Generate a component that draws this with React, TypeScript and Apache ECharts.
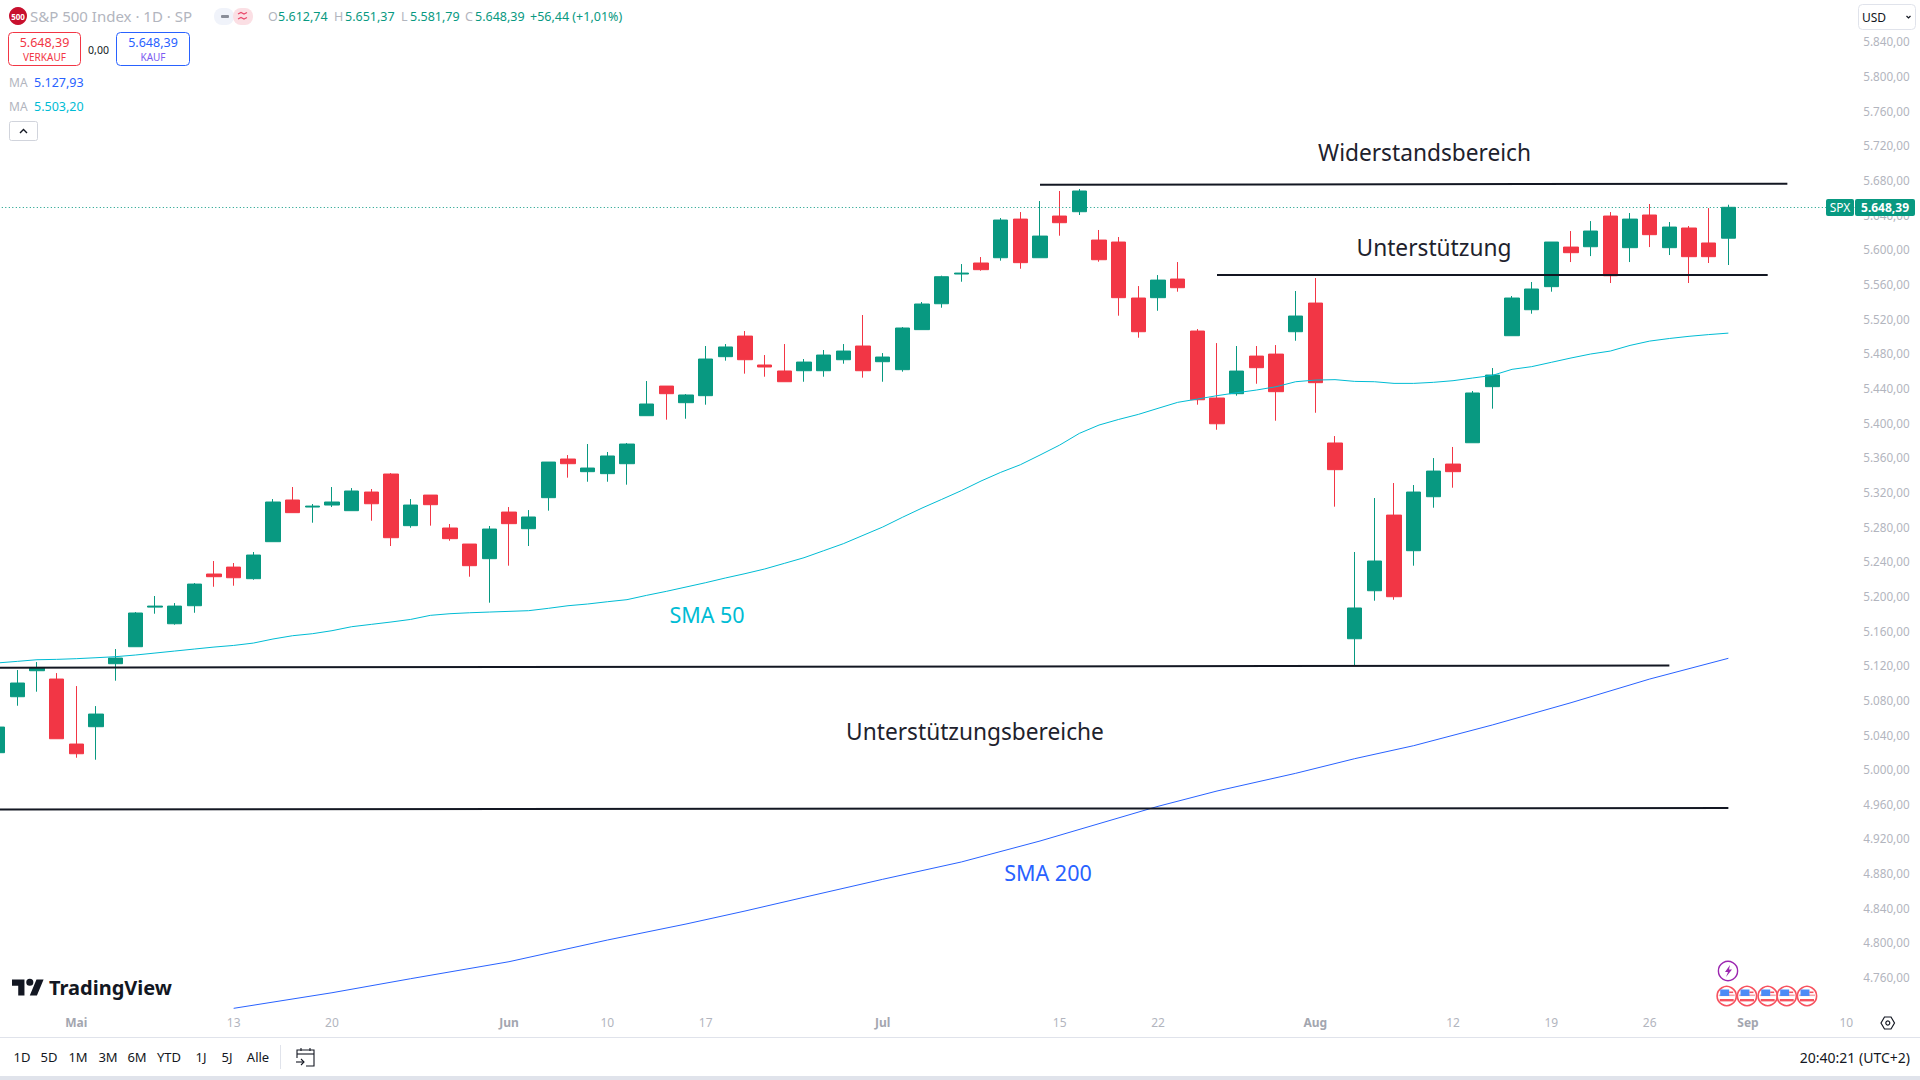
import React, { useEffect, useRef } from "react";
import * as echarts from "echarts";

const categories = [
  "Apr 25","Apr 26","Apr 29","Apr 30","May 1","May 2","May 3","May 6","May 7","May 8","May 9","May 10",
  "May 13","May 14","May 15","May 16","May 17","May 20","May 21","May 22","May 23","May 24","May 28","May 29","May 30","May 31",
  "Jun 3","Jun 4","Jun 5","Jun 6","Jun 7","Jun 10","Jun 11","Jun 12","Jun 13","Jun 14","Jun 17","Jun 18","Jun 20","Jun 21",
  "Jun 24","Jun 25","Jun 26","Jun 27","Jun 28","Jul 1","Jul 2","Jul 3","Jul 5","Jul 8","Jul 9","Jul 10","Jul 11","Jul 12",
  "Jul 15","Jul 16","Jul 17","Jul 18","Jul 19","Jul 22","Jul 23","Jul 24","Jul 25","Jul 26","Jul 29","Jul 30","Jul 31",
  "Aug 1","Aug 2","Aug 5","Aug 6","Aug 7","Aug 8","Aug 9","Aug 12","Aug 13","Aug 14","Aug 15","Aug 16","Aug 19","Aug 20","Aug 21","Aug 22","Aug 23",
  "Aug 26","Aug 27","Aug 28","Aug 29","Aug 30","Sep 3","Sep 4","Sep 5","Sep 6","Sep 9","Sep 10",
];
const dayTicks: Record<string, string> = {
  "May 13": "13", "May 20": "20", "Jun 10": "10", "Jun 17": "17", "Jul 15": "15", "Jul 22": "22",
  "Aug 12": "12", "Aug 19": "19", "Aug 26": "26", "Sep 10": "10",
};
const monthTicks: Record<string, string> = {
  "May 1": "Mai", "Jun 3": "Jun", "Jul 1": "Jul", "Aug 1": "Aug", "Sep 3": "Sep",
};

const opens = [
  5019,5083.6,5113.6,5104,5029,5049,5121.7,5141.3,5187,5167.8,
  5188.6,5225.2,5233.2,5219.8,5262.5,5310.6,5302.5,5304.8,5298.3,5319.8,
  5340.6,5281,5316.3,5278.3,5259.8,5242.9,5296.7,5277.5,5313.3,5357.9,
  5343.3,5341,5352.5,5407.9,5442.1,5422.9,5431,5476,5499.8,5466.4,
  5459.5,5459.8,5459.8,5472.5,5488.3,5470.2,5461,5507.2,5537.1,5571.4,
  5584.1,5590.2,5634.8,5590.2,5638.3,5643.3,5610.6,5608.3,5543.7,5544.1,
  5565.6,5505.6,5428.3,5433.3,5476.7,5479,5504.8,5537.9,5376.4,5150.5,
  5205.9,5293.2,5252.1,5314.4,5352.1,5376.7,5441.4,5500.2,5530.2,5556.8,
  5602.5,5602.9,5638.3,5601.8,5639.5,5601.8,5624.5,5607.2,5612.74,
];
const closes = [
  5048.6,5099.4,5117.1,5035.1,5017.8,5063.6,5128.2,5180.2,5188.2,5188.2,
  5213.6,5222.1,5220.9,5247.1,5308.3,5296,5303.6,5308.3,5321,5306.3,
  5267.1,5304.8,5305.2,5266,5234.8,5277.1,5283.3,5291,5354.4,5352.5,
  5347.5,5361.4,5375.2,5421.4,5433.3,5431.8,5473.3,5487.2,5472.5,5464.1,
  5447.1,5469.8,5477.9,5482.5,5459.8,5475.6,5509.1,5536.8,5568.3,5572.5,
  5576.4,5633.7,5584.5,5615.2,5630.6,5667.2,5587.9,5544.1,5504.8,5564.4,
  5555.6,5426.3,5398.6,5459.4,5463.3,5435.6,5522.9,5446,5345.6,5186,
  5240.2,5199,5319.8,5344,5343.3,5434.1,5454.8,5543.7,5554.1,5608.3,
  5596,5621,5569.4,5634.8,5616.8,5625.6,5591.4,5591.4,5648.39,
];
const highs = [
  5050,5114.4,5123.6,5110.9,5095.9,5072.8,5138.6,5181.3,5199.8,5191.7,
  5214.8,5240.2,5237.9,5250.6,5311.7,5325.6,5306,5325.6,5324.4,5323.3,
  5341.7,5311.7,5316.3,5282.9,5259.8,5280.6,5302.5,5299,5354.4,5362.5,
  5375.2,5366,5376.4,5447.9,5442.1,5432.9,5488.3,5490.6,5505.6,5477.9,
  5490.6,5473.3,5483.7,5490.6,5524.1,5480.2,5510.2,5539.1,5569.5,5582.9,
  5591,5636,5642.9,5655.6,5667.2,5669.5,5622.2,5614.1,5557.5,5570.2,
  5585.2,5507.9,5491.7,5488.3,5488.3,5489.4,5551.8,5566.8,5384.4,5250.6,
  5312.9,5330.2,5327.9,5359,5371.8,5436.4,5462.9,5546,5562.2,5608.3,
  5621,5632.5,5642.9,5641.8,5652.2,5631.4,5626.8,5647.5,5651.37,
];
const lows = [
  5017,5073.2,5089.4,5035.1,5013.2,5010.9,5102.1,5141.3,5179.4,5166.7,
  5180.5,5210.5,5211.7,5218.6,5262.5,5296,5284.4,5302.5,5298.3,5286.7,
  5257.5,5278.6,5281,5263.6,5222.1,5192.1,5234.8,5257.5,5298.3,5336.4,
  5331.7,5331.7,5328.3,5407.9,5403.3,5404.4,5420.6,5471.4,5456.4,5452.9,
  5447.1,5447.1,5452.9,5467.9,5451.8,5447.1,5458.7,5507.2,5532.5,5562.5,
  5575.2,5586.8,5577.5,5590.2,5615.6,5639.5,5585.6,5523.3,5497.9,5529,
  5551,5420.6,5391.7,5431,5444.8,5402.1,5494.4,5411.3,5302.9,5119.4,
  5194.4,5195.5,5234.8,5301.7,5324.8,5376.7,5416,5500.2,5525.6,5551,
  5585.2,5592.1,5561,5585.2,5602.5,5593.3,5561,5584.1,5581.79,
];

const sma50 = [
  5122.6,5124.4,5126.3,5126.7,5127.5,5128.6,5129.8,5131.7,5134,5136.3,
  5138.6,5140.9,5142.8,5145.5,5150.2,5154,5156.3,5159.8,5164.4,5167.1,
  5169.8,5172.8,5177.5,5179.4,5180.5,5181.3,5182.1,5182.9,5185.6,5188.6,
  5190.6,5193.2,5195.6,5200.6,5205.2,5210.2,5215.2,5220.6,5225.6,5231,
  5237.5,5244,5252.1,5260.2,5269.8,5279.4,5290.6,5301.3,5311.3,5321.4,
  5332.5,5342.5,5351.3,5362.5,5374,5387.5,5397.1,5403.6,5409.4,5416.4,
  5423.3,5427.1,5431,5434.4,5437.5,5441.3,5447.1,5449,5449.5,5447.5,
  5447.1,5445.2,5445.2,5446.4,5448.3,5451.4,5454.4,5461.4,5464.5,5469.5,
  5474.5,5479.1,5482.5,5489,5494,5497,5499.5,5501.5,5503.2,
];
const sma200Days = [12,17,21,26,31,35,38,41,45,49,53,56,59,62,66,69,72,76,80,84,88];
const sma200 = [
  4724,4742,4758.2,4777.8,4802.8,4821.3,4836.3,4852.1,4872.9,4892.9,4917.1,
  4937.1,4957.1,4974.8,4995.2,5012.1,5027.1,5051,5076.7,5104,5127.93,
];

const resistanceLine = [[53, 5674.4], [91, 5675.6]];
const supportUpperLine = [[62, 5570.3], [90, 5570.3]];
const supportMidLine = [[0, 5117.1], [85, 5119.5]];
const supportLowLine = [[0, 4953.5], [88, 4955.2]];
const lastPrice = 5648.39;

const FONT = '"Noto Sans", sans-serif';
const GREEN = "#089981";
const RED = "#f23645";
const TEAL = "#00bcd4";
const BLUE = "#2962ff";
const INK = "#131722";
const NOTE = "#1e222d";
const MUTE = "#b2b5be";
// The first candle is cut by the page's left edge, so the chart's div starts this far off-page.
const BLEED = 13;

const fmtPrice = (v: number) =>
  v.toFixed(2).replace(".", ",").replace(/\B(?=(\d{3})(?!\d))/g, ".");

const t = (text: string, x: number, y: number, size: number, fill: string, align = "left", weight = "normal") => ({
  type: "text",
  z: 100,
  x,
  y,
  style: {
    text,
    fill,
    font: `${weight} ${size}px ${FONT}`,
    textAlign: align,
    textVerticalAlign: "middle",
  },
});
const box = (x: number, y: number, w: number, h: number, r: number, fill: string, stroke?: string) => ({
  type: "rect",
  z: 99,
  shape: { x, y, width: w, height: h, r },
  style: { fill, stroke: stroke || "none", lineWidth: 1 },
});
const stroked = (type: string, shape: any, stroke: string, lineWidth = 1.2, fill = "none") => ({
  type,
  z: 100,
  shape,
  style: { stroke, lineWidth, fill },
});

const flag = (cx: number, cy: number) => ({
  type: "group",
  z: 100,
  children: [
    { type: "circle", z: 100, shape: { cx, cy, r: 9.6 }, style: { fill: "#fff", stroke: "#f7525f", lineWidth: 1.6 } },
    { type: "rect", z: 100, shape: { x: cx - 8, y: cy - 1.5, width: 16, height: 1.6 }, style: { fill: "#f7a5ab" } },
    { type: "rect", z: 100, shape: { x: cx - 7, y: cy + 3, width: 14, height: 2.4 }, style: { fill: "#f7525f" } },
    { type: "rect", z: 100, shape: { x: cx - 6.5, y: cy - 6.5, width: 9, height: 6.5 }, style: { fill: "#4c8bf5" } },
    { type: "rect", z: 100, shape: { x: cx + 2.5, y: cy - 4.5, width: 4, height: 1.6 }, style: { fill: "#f7525f" } },
  ],
});

const graphics: any[] = [
  // chrome
  box(0, 1037, 1920, 1, 0, "#e0e3eb"),
  box(0, 1076, 1920, 4, 0, "#e0e3eb"),
  box(280, 1045, 1, 24, 0, "#e0e3eb"),

  // header
  { type: "circle", z: 100, shape: { cx: 18, cy: 16, r: 9 }, style: { fill: "#c8102e" } },
  t("500", 18, 16.5, 8, "#ffffff", "center", "bold"),
  t("S&P 500 Index · 1D · SP", 30, 16, 15, MUTE),
  box(214, 8, 20, 17, 8, "#f0f3fa"),
  box(233, 8, 20, 17, 8, "#fbdfe4"),
  box(221, 15, 8, 3, 1, "#8a8e99"),
  stroked("polyline", { points: [[238, 14], [241, 12.5], [244, 14], [247, 12.5]] }, "#e8486b"),
  stroked("polyline", { points: [[238, 19], [241, 17.5], [244, 19], [247, 17.5]] }, "#e8486b"),
  t("O", 268, 16, 12.5, MUTE),
  t("5.612,74", 278, 16, 12.5, GREEN),
  t("H", 334, 16, 12.5, MUTE),
  t("5.651,37", 345, 16, 12.5, GREEN),
  t("L", 401, 16, 12.5, MUTE),
  t("5.581,79", 410, 16, 12.5, GREEN),
  t("C", 465, 16, 12.5, MUTE),
  t("5.648,39", 475, 16, 12.5, GREEN),
  t("+56,44 (+1,01%)", 530, 16, 12.5, GREEN),

  box(8.5, 32.5, 72, 33, 4, "#fff", RED),
  t("5.648,39", 44.5, 42.5, 12.5, RED, "center"),
  t("VERKAUF", 44.5, 57, 10, RED, "center"),
  t("0,00", 98.5, 50, 10.5, INK, "center"),
  box(116.5, 32.5, 73, 33, 4, "#fff", BLUE),
  t("5.648,39", 153, 42.5, 12.5, BLUE, "center"),
  t("KAUF", 153, 57, 10, "#7b5cf0", "center"),
  t("MA", 9, 82.5, 12, MUTE),
  t("5.127,93", 34, 82.5, 12.5, BLUE),
  t("MA", 9, 106.5, 12, MUTE),
  t("5.503,20", 34, 106.5, 12.5, TEAL),
  box(9.5, 121.5, 28, 19, 2, "#fff", "#d1d4dc"),
  stroked("polyline", { points: [[20, 133], [23.5, 129.5], [27, 133]] }, INK, 1.4),

  // price-axis widgets
  box(1858.5, 4.5, 57, 25, 4, "#fff", "#e0e3eb"),
  t("USD", 1862, 17, 12, INK),
  stroked("polyline", { points: [[1906.5, 16], [1908.5, 18], [1910.5, 16]] }, INK, 1.2),
  box(1826, 199, 28, 17, 2, GREEN),
  box(1855, 199, 60, 17, 2, GREEN),
  t("SPX", 1840, 207.5, 12, "#fff", "center"),
  t("5.648,39", 1885, 207.5, 12, "#fff", "center", "bold"),

  // annotations
  t("Widerstandsbereich", 1424.5, 152, 22.7, NOTE, "center"),
  t("Unterstützung", 1434, 247, 22.7, NOTE, "center"),
  t("Unterstützungsbereiche", 975, 731, 22.7, NOTE, "center"),
  t("SMA 50", 707, 614.5, 21.5, TEAL, "center"),
  t("SMA 200", 1048, 872.5, 21.5, BLUE, "center"),

  // logo
  { type: "tvlogo", z: 100, x: 12, y: 976, scaleX: 0.89, scaleY: 0.89, style: { fill: INK } },
  t("TradingView", 49, 987, 20, INK, "left", "bold"),

  // event markers
  stroked("circle", { cx: 1728, cy: 971, r: 9.6 }, "#9c27b0", 1.4, "#fff"),
  { type: "polygon", z: 101, shape: { points: [[1730, 965], [1725, 972], [1728, 972], [1726, 977], [1732, 969.5], [1729, 969.5]] }, style: { fill: "#9c27b0" } },
  flag(1726.7, 996),
  flag(1747, 996),
  flag(1767.7, 996),
  flag(1786.7, 996),
  flag(1807, 996),

  // settings hexagon
  stroked("polygon", { points: [[1881, 1023], [1884.5, 1017], [1891, 1017], [1894.5, 1023], [1891, 1029], [1884.5, 1029]] }, INK, 1.2),
  stroked("circle", { cx: 1887.8, cy: 1023, r: 2 }, INK, 1.2),

  // toolbar
  t("1D", 22, 1057, 13, INK, "center"),
  t("5D", 49, 1057, 13, INK, "center"),
  t("1M", 78, 1057, 13, INK, "center"),
  t("3M", 108, 1057, 13, INK, "center"),
  t("6M", 137, 1057, 13, INK, "center"),
  t("YTD", 169, 1057, 13, INK, "center"),
  t("1J", 201, 1057, 13, INK, "center"),
  t("5J", 227, 1057, 13, INK, "center"),
  t("Alle", 258, 1057, 13, INK, "center"),
  stroked("polyline", { points: [[297, 1058], [297, 1050], [314, 1050], [314, 1066], [306, 1066]] }, INK, 1.1),
  stroked("polyline", { points: [[297, 1054], [314, 1054]] }, INK, 1.1),
  stroked("polyline", { points: [[301, 1048], [301, 1051]] }, INK, 1.1),
  stroked("polyline", { points: [[310, 1048], [310, 1051]] }, INK, 1.1),
  stroked("polyline", { points: [[296, 1062], [304, 1062]] }, INK, 1.1),
  stroked("polyline", { points: [[301, 1059], [304, 1062], [301, 1065]] }, INK, 1.1),
  t("20:40:21 (UTC+2)", 1910, 1057, 14, INK, "right"),
];

const flatLine = (data: number[][]) => ({
  type: "line",
  data,
  showSymbol: false,
  silent: true,
  lineStyle: { color: INK, width: 2 },
  z: 5,
});

export default function App() {
  const ref = useRef<HTMLDivElement>(null);
  useEffect(() => {
    document.body.style.margin = "0";
    document.body.style.overflow = "hidden";
    echarts.graphic.registerShape(
      "tvlogo",
      echarts.graphic.extendPath(
        "M14 22H7V11H0V4h14v18zM28 22h-8l7.5-18h8L28 22zM24 7a4 4 0 1 1-8 0 4 4 0 0 1 8 0z",
        {}
      )
    );
    const chart = echarts.init(ref.current!, undefined, { renderer: "svg" });
    chart.setOption({
      animation: false,
      backgroundColor: "#ffffff",
      grid: { left: BLEED - 12.2, width: 1868.4, top: 6.6, height: 1005.2 },
      xAxis: {
        type: "category",
        data: categories,
        boundaryGap: true,
        axisLine: { show: false },
        axisTick: { show: false },
        splitLine: { show: false },
        axisLabel: {
          interval: 0,
          margin: 5,
          hideOverlap: false,
          color: MUTE,
          fontFamily: FONT,
          fontSize: 12,
          formatter: (v: string) =>
            monthTicks[v] ? `{m|${monthTicks[v]}}` : dayTicks[v] || "",
          rich: { m: { color: "#a3a6af", fontWeight: "bold", fontFamily: FONT, fontSize: 12 } },
        },
      },
      yAxis: {
        type: "value",
        position: "right",
        min: 4720,
        max: 5880,
        interval: 40,
        axisLine: { show: false },
        axisTick: { show: false },
        splitLine: { show: false },
        axisLabel: {
          margin: 7,
          padding: [0, 0, 2, 0],
          color: MUTE,
          fontFamily: FONT,
          fontSize: 11.7,
          formatter: (v: number) => (v < 4760 || v > 5840 ? "" : fmtPrice(v)),
        },
      },
      series: [
        {
          type: "candlestick",
          barWidth: 15,
          data: opens.map((o, i) => [o, closes[i], lows[i], highs[i]]),
          itemStyle: {
            color: GREEN,
            color0: RED,
            borderColor: GREEN,
            borderColor0: RED,
            borderWidth: 1,
          },
          markLine: {
            silent: true,
            symbol: "none",
            label: { show: false },
            lineStyle: { color: GREEN, type: [1, 2.5], width: 1 },
            data: [{ yAxis: lastPrice }],
          },
          z: 3,
        },
        { type: "line", data: sma50, showSymbol: false, silent: true, lineStyle: { color: TEAL, width: 1 }, z: 4 },
        {
          type: "line",
          data: sma200Days.map((d, i) => [d, sma200[i]]),
          showSymbol: false,
          silent: true,
          lineStyle: { color: BLUE, width: 1 },
          z: 4,
        },
        flatLine(resistanceLine),
        flatLine(supportUpperLine),
        flatLine(supportMidLine),
        flatLine(supportLowLine),
      ],
      graphic: { elements: [{ type: "group", x: BLEED, y: 0, z: 100, children: graphics }] },
    });
    return () => chart.dispose();
  }, []);
  return <div ref={ref} style={{ position: "absolute", left: -BLEED, top: 0, width: 1920 + BLEED, height: 1080 }} />;
}
